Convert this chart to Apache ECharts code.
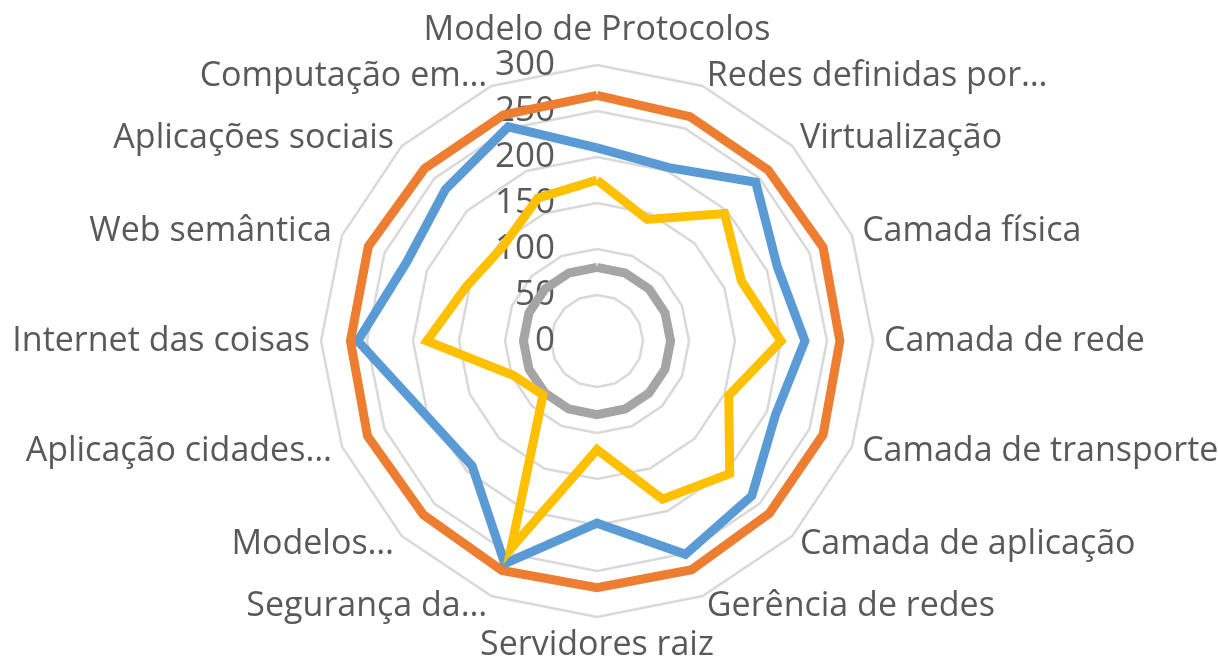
<!DOCTYPE html>
<html>
<head>
<meta charset="utf-8">
<script src="https://cdn.jsdelivr.net/npm/echarts@6/dist/echarts.min.js"></script>
<style>
  html, body { margin: 0; padding: 0; background: #fff; }
  #main { width: 1218px; height: 669px; }
</style>
</head>
<body>
<div id="main"></div>
<script>
// categorias, no sentido horário a partir do topo
const categories = [
  'Modelo de Protocolos', 'Redes definidas por…', 'Virtualização', 'Camada física',
  'Camada de rede', 'Camada de transporte', 'Camada de aplicação', 'Gerência de redes',
  'Servidores raiz', 'Segurança da…', 'Modelos…', 'Aplicação cidades…',
  'Internet das coisas', 'Web semântica', 'Aplicações sociais', 'Computação em…'
];
const serie1 = [210, 204, 244, 212, 226, 210, 238, 251, 198, 262, 192, 204, 260, 224, 233, 252];
const serie2 = [267, 264, 263, 266, 264, 266, 265, 269, 268, 270, 267, 270, 268, 269, 265, 266];
const serie3 = [80, 80, 80, 80, 80, 80, 80, 80, 80, 80, 80, 80, 80, 80, 80, 80];
const serie4 = [175, 143, 196, 170, 200, 155, 204, 186, 118, 244, 83, 98, 185, 154, 145, 168];
const axisMin = 0;
const axisMax = 300;
const splitCount = 6;

// o radar do echarts anda no sentido anti-horário, então inverte a ordem
const clockwise = arr => [arr[0]].concat(arr.slice(1).reverse());

const chart = echarts.init(document.getElementById('main'));
const font = "'Open Sans', sans-serif";

const indicator = clockwise(categories).map((name, i) => {
  const ind = { name: name, min: axisMin, max: axisMax };
  if (i === 0) ind.axisLabel = { show: true };
  return ind;
});

const lineOf = (values, color) => ({
  value: clockwise(values),
  symbol: 'none',
  lineStyle: { color: color, width: 9, join: 'miter' },
  itemStyle: { color: color }
});

chart.setOption({
  animation: false,
  radar: {
    center: [597, 341],
    radius: 276,
    shape: 'polygon',
    splitNumber: splitCount,
    indicator: indicator,
    axisName: { color: '#595959', fontSize: 34, fontFamily: font },
    nameGap: 11,
    axisLine: { show: false },
    axisTick: { show: false },
    splitArea: { show: false },
    splitLine: { lineStyle: { color: '#D9D9D9', width: 2.5 } },
    axisLabel: { show: false, color: '#595959', fontSize: 35, fontFamily: font, margin: 42 }
  },
  series: [{
    type: 'radar',
    data: [
      lineOf(serie1, '#5B9BD5'),
      lineOf(serie2, '#ED7D31'),
      lineOf(serie3, '#A5A5A5'),
      lineOf(serie4, '#FFC000')
    ]
  }]
});
</script>
</body>
</html>
